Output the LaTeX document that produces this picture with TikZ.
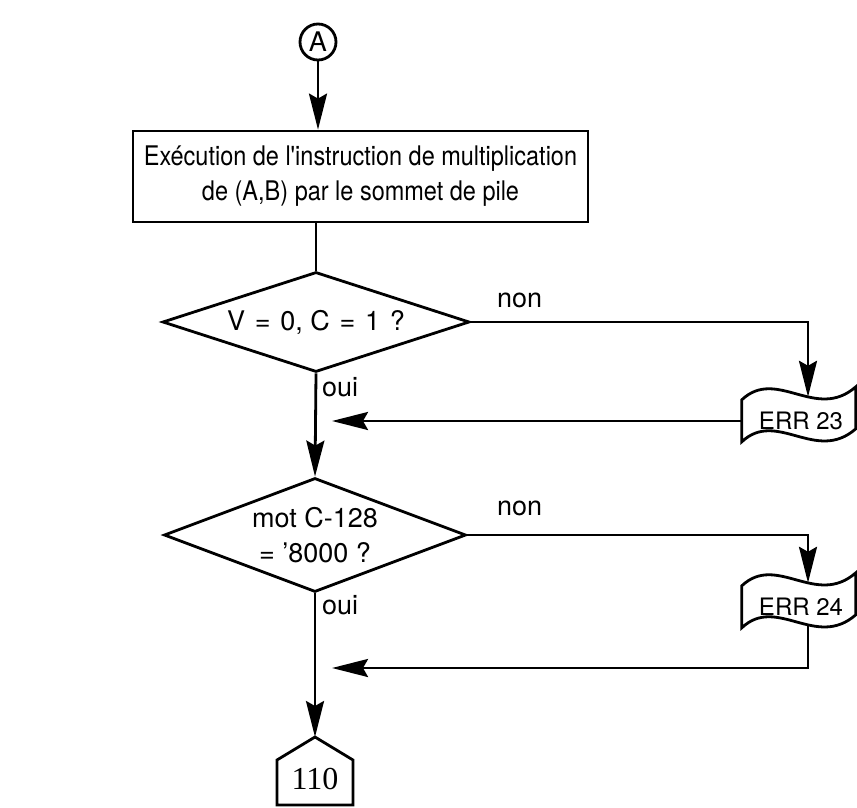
\documentclass[tikz,border=0pt]{standalone}
\usepackage{fontspec}
\setmainfont{TeX Gyre Heros}
\newfontfamily\narrowfont{TeX Gyre Heros}[FakeStretch=0.87]
\newfontfamily\numfont{Liberation Serif}
\usetikzlibrary{arrows.meta,shapes.geometric,calc}

\newcommand\txt{\fontsize{27}{35}\selectfont}
\newcommand\wsp{\hspace{0.36em}}

\tikzset{
  flow/.style={line width=2.8pt, line join=miter},
  arr/.style={flow, -{Stealth[length=36pt,width=18pt,inset=5pt]}},
  procbox/.style={flow, draw, rectangle, minimum width=455pt, minimum height=91pt,
    align=center, font=\narrowfont\txt, inner sep=0pt},
  test/.style={flow, draw, diamond, inner sep=0pt, font=\txt, align=center},
  connector/.style={flow, draw, circle, minimum size=36pt, inner sep=0pt, font=\txt},
  tape/.style={minimum width=114pt, minimum height=42pt, inner sep=0pt,
    font=\fontsize{24}{28}\selectfont},
  lbl/.style={font=\txt, inner sep=0pt}
}

% punched-tape outline around a tape node
\newcommand\tapeoutline[1]{%
  \draw[flow] (#1.north west)
    .. controls +(35,-33) and +(-40,35) .. ++(114,-13)
    -- ++(0,42)
    .. controls +(-40,35) and +(35,-33) .. ++(-114,13)
    -- cycle;}

\begin{document}
\begin{tikzpicture}[x=1pt,y=-1pt]
\useasboundingbox (0,0) rectangle (857,808);

% entry connector and processing step
\node[connector] (A) at (318,42) {A};
\node[procbox] (exec) at (360.5,176.5)
  {Exécution de l'instruction de multiplication\\de (A,B) par le sommet de pile};

% first test
\node[test, aspect=3.07, minimum width=307pt, minimum height=100pt] (d1) at (316,322)
  {V\wsp=\wsp0, C\wsp=\wsp1\wsp?};
\node[tape] (err23) at (799,421) {\hspace{4pt}ERR 23};
\tapeoutline{err23}

% second test
\node[test, aspect=2.65, minimum width=302pt, minimum height=114pt] (d2) at (315,535)
  {mot C-128\\= '8000 ?};
\node[tape] (err24) at (799,607) {\hspace{4pt}ERR 24};
\tapeoutline{err24}

% exit connector
\coordinate (top110) at (315,737);
\draw[flow] (top110) -- (353,760) -- (353,805) -- (277,805) -- (277,760) -- cycle;
\node[font=\numfont\fontsize{32}{34}\selectfont, inner sep=0pt] (n110) at (315,779) {110};

% return points on the main line
\coordinate (back23) at (332,421);
\coordinate (back24) at (332,668);

% connectors
\draw[arr] (A.south) -- (A.south |- exec.north);
\draw[flow] (d1.north |- exec.south) -- (d1.north);
\draw[arr] (d1.east) -| ([xshift=9pt,yshift=3pt]err23.north);
\draw[arr] (err23.west) -- (back23);
\draw[arr] (d1.south) -- (d2.north);
\draw[arr] (d2.east) -| ([xshift=9pt,yshift=3pt]err24.north);
\draw[arr] ([xshift=9pt,yshift=3pt]err24.south) |- (back24);
\draw[arr] (d2.south) -- (top110);

% branch labels
\node[lbl, anchor=west] (non1) at (497,300) {non};
\node[lbl, anchor=west] (oui1) at (322,387) {oui};
\node[lbl, anchor=west] (non2) at (497,508) {non};
\node[lbl, anchor=west] (oui2) at (322,605) {oui};
\end{tikzpicture}
\end{document}
